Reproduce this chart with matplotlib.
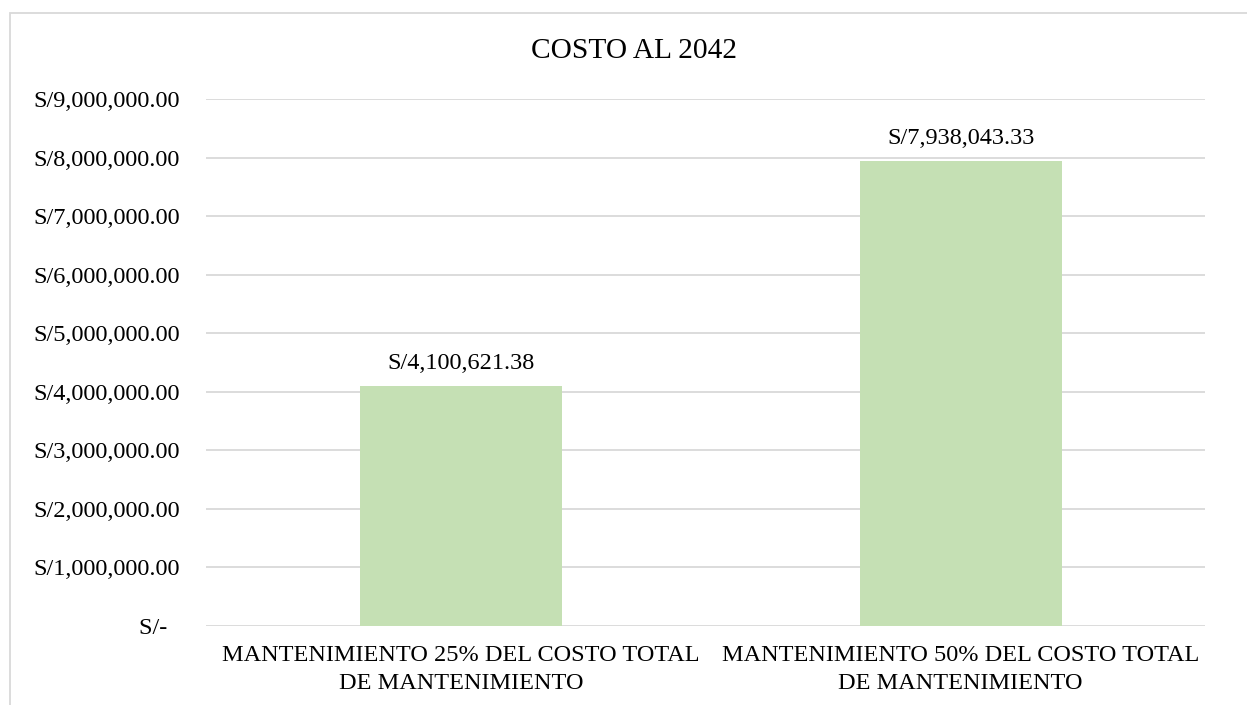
import matplotlib.pyplot as plt
import matplotlib.patches as patches
from matplotlib.ticker import FuncFormatter

categories = ['MANTENIMIENTO 25% DEL COSTO TOTAL\nDE MANTENIMIENTO',
              'MANTENIMIENTO 50% DEL COSTO TOTAL\nDE MANTENIMIENTO']
costs = [4100621.38, 7938043.33]
yticks = [0, 1e6, 2e6, 3e6, 4e6, 5e6, 6e6, 7e6, 8e6, 9e6]

plt.rcParams['font.family'] = ['Liberation Serif', 'DejaVu Serif']

W, H = 1247, 705
fig = plt.figure(figsize=(W / 100, H / 100), dpi=100)

# plot area in pixels (left, top, right, bottom)
left, top, right, bottom = 206, 99, 1205, 626
ax = fig.add_axes([left / W, 1 - bottom / H, (right - left) / W, (bottom - top) / H])

# outer chart border, right and bottom edges fall outside the picture
fig.patches.append(patches.Rectangle((10 / W, -0.05), 1.0, 1 - 12.5 / H + 0.05,
                                     transform=fig.transFigure, fill=False,
                                     edgecolor='#D9D9D9', linewidth=1.3))

x = [0, 1]
bars = ax.bar(x, costs, width=0.405, color='#C5E0B4', zorder=2)
for xi, v in zip(x, costs):
    ax.annotate('S/{:,.2f}'.format(v), (xi, v), xytext=(0, 16),
                textcoords='offset points', ha='center', va='center', fontsize=17.5)

ax.set_xlim(-0.511, 1.489)
ax.set_ylim(0, 9e6)
ax.set_yticks(yticks)


def fmt(v, pos):
    if v == 0:
        return 'S/-  '
    return 'S/{:,.2f}'.format(v)


ax.yaxis.set_major_formatter(FuncFormatter(fmt))
ax.grid(axis='y', color='#D9D9D9', linewidth=1.3, zorder=0)
ax.set_xticks(x)
ax.set_xticklabels(categories, fontsize=17.5, linespacing=1.42)
ax.tick_params(axis='both', length=0, labelsize=17.5)
ax.tick_params(axis='y', pad=19)
ax.tick_params(axis='x', pad=14)
for s in ax.spines.values():
    s.set_visible(False)

fig.text(634 / W, 1 - 51 / H, 'COSTO AL 2042', ha='center', va='center', fontsize=21.2)

fig.savefig('out.png', dpi=100)
